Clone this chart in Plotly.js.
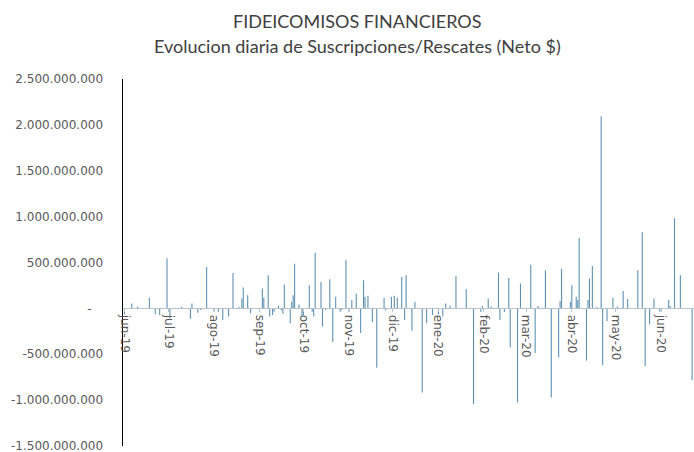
<!DOCTYPE html>
<html>
<head>
<meta charset="utf-8">
<script src="https://cdn.plot.ly/plotly-3.0.1.min.js"></script>
<style>html,body{margin:0;padding:0;background:#fff;}#chart{width:694px;height:452px;}</style>
</head>
<body>
<div id="chart"></div>
<script>
// Fecha y neto diario de suscripciones/rescates en $
const fechas = [
  "2019-06-01","2019-06-06","2019-06-10","2019-06-18","2019-06-22","2019-06-25","2019-06-30",
  "2019-07-02","2019-07-10","2019-07-16","2019-07-17","2019-07-21","2019-07-23","2019-07-27",
  "2019-08-01","2019-08-04","2019-08-07","2019-08-11","2019-08-14","2019-08-18","2019-08-20","2019-08-21","2019-08-24","2019-08-26",
  "2019-09-03","2019-09-04","2019-09-07","2019-09-08","2019-09-10","2019-09-11","2019-09-14","2019-09-16","2019-09-17","2019-09-18",
  "2019-09-22","2019-09-23","2019-09-24","2019-09-25","2019-09-28","2019-09-30",
  "2019-10-01","2019-10-05","2019-10-07","2019-10-08","2019-10-09","2019-10-13","2019-10-14","2019-10-16","2019-10-19","2019-10-21",
  "2019-10-23","2019-10-26","2019-10-27","2019-10-30",
  "2019-11-01","2019-11-03","2019-11-06","2019-11-09","2019-11-11","2019-11-12","2019-11-14","2019-11-17","2019-11-20","2019-11-25",
  "2019-11-26","2019-11-30",
  "2019-12-02","2019-12-04","2019-12-07","2019-12-09","2019-12-10","2019-12-14","2019-12-16","2019-12-21","2019-12-24","2019-12-28",
  "2020-01-01","2020-01-04","2020-01-06","2020-01-09","2020-01-13","2020-01-20","2020-01-25","2020-01-30","2020-01-31",
  "2020-02-04","2020-02-06","2020-02-11","2020-02-12","2020-02-15","2020-02-18","2020-02-19","2020-02-24","2020-02-26",
  "2020-03-04","2020-03-07","2020-03-09","2020-03-14","2020-03-18","2020-03-23","2020-03-24","2020-03-25","2020-03-31",
  "2020-04-01","2020-04-04","2020-04-05","2020-04-06","2020-04-11","2020-04-12","2020-04-13","2020-04-15","2020-04-18",
  "2020-04-21","2020-04-22","2020-04-25","2020-04-29",
  "2020-05-02","2020-05-06","2020-05-09","2020-05-16","2020-05-19","2020-05-21","2020-05-24","2020-05-27","2020-05-31",
  "2020-06-06","2020-06-07","2020-06-10","2020-06-14","2020-06-22"
];
const netos = [
  -65000000, 54000000, 20000000, 115000000, -65000000, -72000000, 547000000,
  -108000000, 18000000, -115000000, 54000000, -47000000, -18000000, 450000000,
  -36000000, -36000000, -126000000, -90000000, 385000000, 15000000, 108000000, 227000000, 144000000, -54000000,
  216000000, 115000000, 360000000, -90000000, -72000000, -36000000, 29000000, -18000000, -61000000, 259000000,
  -162000000, 72000000, 144000000, 486000000, 43000000, -90000000,
  -72000000, 252000000, -36000000, -90000000, 605000000, 288000000, -198000000, -18000000, 317000000, -367000000,
  126000000, -36000000, -18000000, 529000000,
  -36000000, 90000000, 162000000, -270000000, 306000000, 126000000, 137000000, -151000000, -648000000, 115000000,
  -20000000, 126000000,
  137000000, 115000000, 342000000, -126000000, 360000000, -245000000, 72000000, -918000000, -162000000, -72000000,
  -65000000, -90000000, 54000000, 30000000, 353000000, 209000000, -1044000000, -40000000, 25000000,
  108000000, 20000000, 389000000, -126000000, -40000000, 331000000, -425000000, -1026000000, 270000000,
  475000000, -486000000, 25000000, 414000000, -972000000, -533000000, 80000000, 432000000, 72000000,
  252000000, 126000000, 90000000, 767000000, -569000000, 90000000, 324000000, 461000000, 15000000,
  2095000000, -620000000, -137000000, 115000000,
  20000000, 190000000, 101000000, 414000000, 830000000, -630000000, -175000000, 108000000, -36000000,
  90000000, 25000000, 983000000, 360000000, -785000000
];
const mesesVals = ["2019-06-01","2019-07-01","2019-08-01","2019-09-01","2019-10-01","2019-11-01","2019-12-01",
  "2020-01-01","2020-02-01","2020-03-01","2020-04-01","2020-05-01","2020-06-01"];
const mesesText = ["jun-19","jul-19","ago-19","sep-19","oct-19","nov-19","dic-19",
  "ene-20","feb-20","mar-20","abr-20","may-20","jun-20"];
const yVals = [2500000000, 2000000000, 1500000000, 1000000000, 500000000, 0, -500000000, -1000000000, -1500000000];
const yText = ["2.500.000.000","2.000.000.000","1.500.000.000","1.000.000.000","500.000.000","-\u00a0\u00a0\u00a0",
  "-500.000.000","-1.000.000.000","-1.500.000.000"];
const titulo = "FIDEICOMISOS FINANCIEROS";
const subtitulo = "Evolucion diaria de Suscripciones/Rescates (Neto $)";

const trace = {
  type: "bar",
  x: fechas,
  y: netos,
  marker: {color: "#5f92b2", line: {width: 0}},
  hoverinfo: "x+y"
};

const titleFont = {family: "Lato", size: 18, color: "#404040"};
const tickFont = {family: "DejaVu Sans", size: 12, color: "#595959"};

const layout = {
  width: 694, height: 452,
  margin: {l: 123, r: 0, t: 79, b: 6, pad: 0},
  paper_bgcolor: "#ffffff", plot_bgcolor: "#ffffff",
  showlegend: false,
  bargap: 0.25,
  annotations: [
    {text: titulo, xref: "paper", yref: "paper", x: 0.41, y: (446 - 21) / 367,
     xanchor: "center", yanchor: "middle", showarrow: false, font: titleFont},
    {text: subtitulo, xref: "paper", yref: "paper", x: 0.41, y: (446 - 46) / 367,
     xanchor: "center", yanchor: "middle", showarrow: false, font: titleFont}
  ],
  xaxis: {
    type: "date",
    range: ["2019-05-31", "2020-06-23 07:00"],
    anchor: "free", position: 0.375,
    showline: true, linecolor: "#b8c4cc", linewidth: 1,
    showgrid: false, zeroline: false,
    tickmode: "array", tickvals: mesesVals, ticktext: mesesText,
    tickangle: 90,
    ticks: "outside", ticklen: 3, tickcolor: "#b8c4cc",
    tickfont: tickFont
  },
  yaxis: {
    range: [-1501000000, 2500500000],
    showline: true, linecolor: "#000000", linewidth: 1.5,
    showgrid: false, zeroline: false,
    tickmode: "array", tickvals: yVals, ticktext: yText,
    ticks: "", ticklabelstandoff: 16, ticklabeloverflow: "allow",
    tickfont: tickFont
  }
};

Plotly.newPlot("chart", [trace], layout, {staticPlot: true, displayModeBar: false});
</script>
</body>
</html>
